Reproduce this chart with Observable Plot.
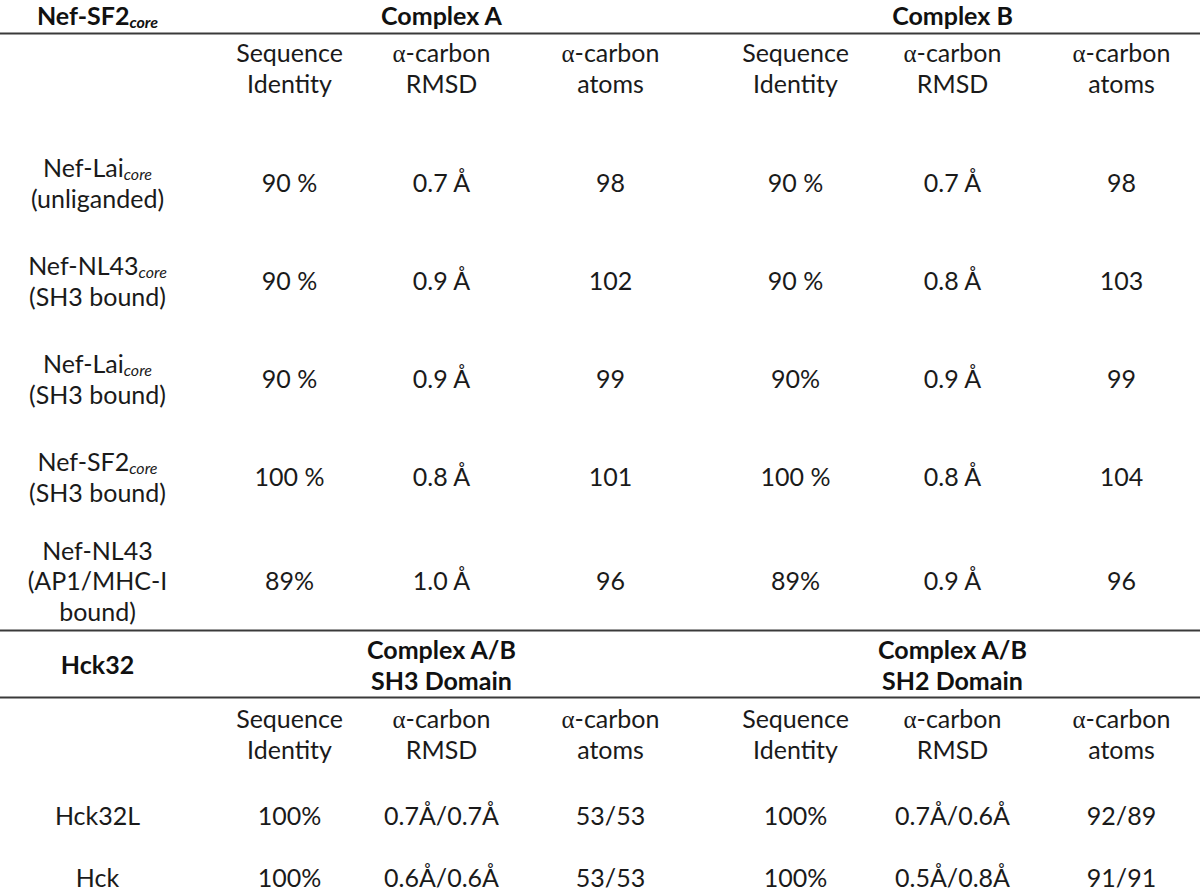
<!DOCTYPE html>
<html>
<head>
<meta charset="utf-8">
<script src="https://cdn.jsdelivr.net/npm/d3@7"></script>
<script src="https://cdn.jsdelivr.net/npm/@observablehq/plot@0.6"></script>
<style>
  html, body { margin: 0; padding: 0; background: #fff; }
  #chart svg { display: block; }
</style>
</head>
<body>
<div id="chart"></div>
<script>
// ---------------- data ----------------
const nefTitle = "Nef-SF2|core";
const nefGroups = ["Complex A", "Complex B"];
const colHeaders = ["Sequence\nIdentity", "α-carbon\nRMSD", "α-carbon\natoms"];
const nefStructures = [
  "Nef-Lai|core\n(unliganded)",
  "Nef-NL43|core\n(SH3 bound)",
  "Nef-Lai|core\n(SH3 bound)",
  "Nef-SF2|core\n(SH3 bound)",
  "Nef-NL43\n(AP1/MHC-I\nbound)"
];
const seqIdentityA = ["90 %", "90 %", "90 %", "100 %", "89%"];
const rmsdA = ["0.7 Å", "0.9 Å", "0.9 Å", "0.8 Å", "1.0 Å"];
const atomsA = ["98", "102", "99", "101", "96"];
const seqIdentityB = ["90 %", "90 %", "90%", "100 %", "89%"];
const rmsdB = ["0.7 Å", "0.8 Å", "0.9 Å", "0.8 Å", "0.9 Å"];
const atomsB = ["98", "103", "99", "104", "96"];

const hckTitle = "Hck32";
const hckGroups = ["Complex A/B\nSH3 Domain", "Complex A/B\nSH2 Domain"];
const hckStructures = ["Hck32L", "Hck"];
const seqSH3 = ["100%", "100%"];
const rmsdSH3 = ["0.7Å/0.7Å", "0.6Å/0.6Å"];
const atomsSH3 = ["53/53", "53/53"];
const seqSH2 = ["100%", "100%"];
const rmsdSH2 = ["0.7Å/0.6Å", "0.5Å/0.8Å"];
const atomsSH2 = ["92/89", "91/91"];

// ---------------- layout ----------------
const W = 1200, H = 895;
const colX = {label: 97, seqA: 289, rmsdA: 441, atomsA: 610, seqB: 795, rmsdB: 952, atomsB: 1121};
const rowY = {
  h1: 15, sub1: 67, r0: 182, r1: 280, r2: 378, r3: 476, r4: 580,
  h2: 664, sub2: 733, s0: 815, s1: 877
};
const ruleYs = [33, 630, 697];
const FS = 25;

// ---------------- build cells ----------------
const cols = ["label", "seqA", "rmsdA", "atomsA", "seqB", "rmsdB", "atomsB"];
const boldCells = [
  {row: "h1", col: "label", text: nefTitle},
  {row: "h1", col: "rmsdA", text: nefGroups[0]},
  {row: "h1", col: "rmsdB", text: nefGroups[1]},
  {row: "h2", col: "label", text: hckTitle},
  {row: "h2", col: "rmsdA", text: hckGroups[0]},
  {row: "h2", col: "rmsdB", text: hckGroups[1]}
];
const cells = [];
["sub1", "sub2"].forEach(r => {
  colHeaders.forEach((h, i) => {
    cells.push({row: r, col: cols[1 + i], text: h});
    cells.push({row: r, col: cols[4 + i], text: h});
  });
});
const nefCols = [nefStructures, seqIdentityA, rmsdA, atomsA, seqIdentityB, rmsdB, atomsB];
nefStructures.forEach((_, i) => {
  nefCols.forEach((arr, j) => cells.push({row: "r" + i, col: cols[j], text: arr[i]}));
});
const hckCols = [hckStructures, seqSH3, rmsdSH3, atomsSH3, seqSH2, rmsdSH2, atomsSH2];
hckStructures.forEach((_, i) => {
  hckCols.forEach((arr, j) => cells.push({row: "s" + i, col: cols[j], text: arr[i]}));
});

const chart = Plot.plot({
  width: W,
  height: H,
  margin: 0,
  x: {type: "linear", domain: [0, W], range: [0, W], axis: null},
  y: {type: "linear", domain: [0, H], range: [0, H], axis: null},
  style: {fontFamily: "Lato, 'Open Sans', sans-serif", background: "#fff"},
  marks: [
    Plot.ruleY(ruleYs, {x1: 0, x2: W, stroke: "#3a3a3a", strokeWidth: 2}),
    Plot.text(cells, {
      x: d => colX[d.col], y: d => rowY[d.row], text: "text",
      fontSize: FS, lineHeight: 1.22, fill: "#1a1a1a", textAnchor: "middle"
    }),
    Plot.text(boldCells, {
      x: d => colX[d.col], y: d => rowY[d.row], text: "text",
      fontSize: FS, lineHeight: 1.22, fill: "#111", fontWeight: "bold", textAnchor: "middle"
    })
  ]
});

// subscripts ("|core") and serif alpha
const NS = "http://www.w3.org/2000/svg";
chart.querySelectorAll("text, tspan").forEach(el => {
  for (const node of [...el.childNodes]) {
    if (node.nodeType !== 3) continue;
    const v = node.nodeValue;
    if (v.includes("|")) {
      const [main, sub] = v.split("|");
      node.nodeValue = main;
      const t = document.createElementNS(NS, "tspan");
      t.textContent = sub;
      t.setAttribute("font-style", "italic");
      t.setAttribute("font-size", "16");
      t.setAttribute("baseline-shift", "-3");
      el.insertBefore(t, node.nextSibling);
    } else if (v.startsWith("α")) {
      node.nodeValue = v.slice(1);
      const t = document.createElementNS(NS, "tspan");
      t.textContent = "α";
      t.setAttribute("font-family", "'Liberation Serif', 'DejaVu Serif', serif");
      el.insertBefore(t, node);
    }
  }
});

document.getElementById("chart").appendChild(chart);
</script>
</body>
</html>
